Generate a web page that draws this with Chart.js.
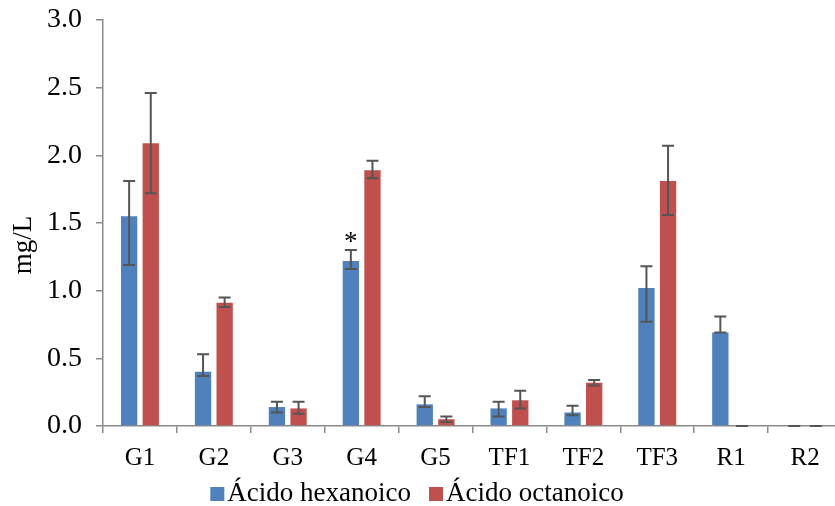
<!DOCTYPE html>
<html>
<head>
<meta charset="utf-8">
<script src="https://cdn.jsdelivr.net/npm/chart.js@4"></script>
<style>
  html, body { margin: 0; padding: 0; background: #fff; overflow: hidden; width: 835px; height: 506px; }
  #wrap { width: 842px; height: 506px; }
</style>
</head>
<body>
<div id="wrap"><canvas id="c" width="842" height="506"></canvas></div>
<script>
// Samples and series
const categories = ['G1', 'G2', 'G3', 'G4', 'G5', 'TF1', 'TF2', 'TF3', 'R1', 'R2'];
const seriesNames = ['Ácido hexanoico', 'Ácido octanoico'];

// Means (mg/L) and the lower / upper ends of their error bars
const hexanoico     = [1.55, 0.40, 0.14, 1.22, 0.16, 0.13, 0.10, 1.02, 0.69, 0.00];
const hexanoicoLow  = [1.19, 0.37, 0.10, 1.16, 0.14, 0.07, 0.08, 0.77, 0.69, 0.00];
const hexanoicoHigh = [1.81, 0.53, 0.18, 1.30, 0.22, 0.18, 0.15, 1.18, 0.81, 0.00];

const octanoico     = [2.09, 0.91, 0.13, 1.89, 0.05, 0.19, 0.32, 1.81, 0.00, 0.00];
const octanoicoLow  = [1.72, 0.88, 0.09, 1.83, 0.03, 0.13, 0.30, 1.56, 0.00, 0.00];
const octanoicoHigh = [2.46, 0.95, 0.18, 1.96, 0.07, 0.26, 0.34, 2.07, 0.00, 0.00];

// Significance marks written above the error bars
const hexanoicoMarks = ['', '', '', '*', '', '', '', '', '', ''];
const octanoicoMarks = ['', '', '', '', '', '', '', '', '', ''];

const yTicks = [0, 0.5, 1.0, 1.5, 2.0, 2.5, 3.0];
const yTitle = 'mg/L';

const SERIF = "'Liberation Serif', 'Times New Roman', serif";
const AXIS_GREY = '#8a8a8a';
const colors = ['#4F81BD', '#C0504D'];

const errorSets = [
  { low: hexanoicoLow, high: hexanoicoHigh, marks: hexanoicoMarks },
  { low: octanoicoLow, high: octanoicoHigh, marks: octanoicoMarks }
];

// Error bars with caps, plus any significance marks
const errorBarPlugin = {
  id: 'errorBars',
  afterDatasetsDraw(chart) {
    const ctx = chart.ctx;
    const y = chart.scales.y;
    ctx.save();
    ctx.strokeStyle = '#555555';
    ctx.lineWidth = 2;
    errorSets.forEach((set, di) => {
      const meta = chart.getDatasetMeta(di);
      meta.data.forEach((bar, i) => {
        const x = bar.x;
        const yl = y.getPixelForValue(set.low[i]);
        const yh = y.getPixelForValue(set.high[i]);
        const cap = 6;
        ctx.beginPath();
        ctx.moveTo(x, yl); ctx.lineTo(x, yh);
        ctx.moveTo(x - cap, yh); ctx.lineTo(x + cap, yh);
        ctx.moveTo(x - cap, yl); ctx.lineTo(x + cap, yl);
        ctx.stroke();
        if (set.marks[i]) {
          ctx.fillStyle = '#000';
          ctx.font = '27px ' + SERIF;
          ctx.textAlign = 'center';
          ctx.textBaseline = 'alphabetic';
          ctx.fillText(set.marks[i], x, yh);
        }
      });
    });
    ctx.restore();
  }
};

// Rotated axis title and bottom legend
const decorPlugin = {
  id: 'decor',
  afterDraw(chart) {
    const ctx = chart.ctx;
    ctx.save();
    ctx.fillStyle = '#000';
    ctx.font = '27px ' + SERIF;
    ctx.translate(24, 245);
    ctx.rotate(-Math.PI / 2);
    ctx.textAlign = 'center';
    ctx.textBaseline = 'middle';
    ctx.fillText(yTitle, 0, 0);
    ctx.restore();

    ctx.save();
    ctx.font = '27px ' + SERIF;
    ctx.textBaseline = 'alphabetic';
    ctx.textAlign = 'left';
    const box = 14, gap = 3, between = 18, baseline = 501, centerX = 417;
    const widths = seriesNames.map(s => ctx.measureText(s).width);
    const total = widths.reduce((a, w) => a + box + gap + w, 0) + between * (seriesNames.length - 1);
    let x = centerX - total / 2;
    seriesNames.forEach((name, i) => {
      ctx.fillStyle = colors[i];
      ctx.fillRect(x, baseline - box, box, box);
      ctx.fillStyle = '#000';
      ctx.fillText(name, x + box + gap, baseline);
      x += box + gap + widths[i] + between;
    });
    ctx.restore();
  }
};

new Chart(document.getElementById('c'), {
  type: 'bar',
  data: {
    labels: categories,
    datasets: [
      { label: seriesNames[0], data: hexanoico, backgroundColor: colors[0], borderWidth: 0,
        categoryPercentage: 0.585, barPercentage: 0.755 },
      { label: seriesNames[1], data: octanoico, backgroundColor: colors[1], borderWidth: 0,
        categoryPercentage: 0.585, barPercentage: 0.755 }
    ]
  },
  options: {
    responsive: false,
    animation: false,
    devicePixelRatio: 1,
    layout: { padding: { top: 20, left: 0, right: 0, bottom: 0 } },
    plugins: { legend: { display: false }, tooltip: { enabled: false } },
    scales: {
      x: {
        afterFit(s) { s.height = 80; s.paddingLeft = 0; s.paddingRight = 0; },
        grid: { display: true, drawOnChartArea: false, offset: true, tickLength: 7, color: AXIS_GREY, lineWidth: 1.5 },
        border: { display: true, color: AXIS_GREY, width: 1.5 },
        ticks: { color: '#000', font: { family: SERIF, size: 25 }, padding: 10, maxRotation: 0 }
      },
      y: {
        min: 0, max: 3,
        afterFit(s) { s.width = 103; s.paddingTop = 0; s.paddingBottom = 0; },
        afterBuildTicks(s) { s.ticks = yTicks.map(v => ({ value: v })); },
        grid: { display: true, drawOnChartArea: false, tickLength: 7, color: AXIS_GREY, lineWidth: 1.5 },
        border: { display: true, color: AXIS_GREY, width: 1.5 },
        ticks: { color: '#000', font: { family: SERIF, size: 28 }, padding: 14,
                 callback: v => Number(v).toFixed(1) }
      }
    }
  },
  plugins: [errorBarPlugin, decorPlugin]
});
</script>
</body>
</html>
